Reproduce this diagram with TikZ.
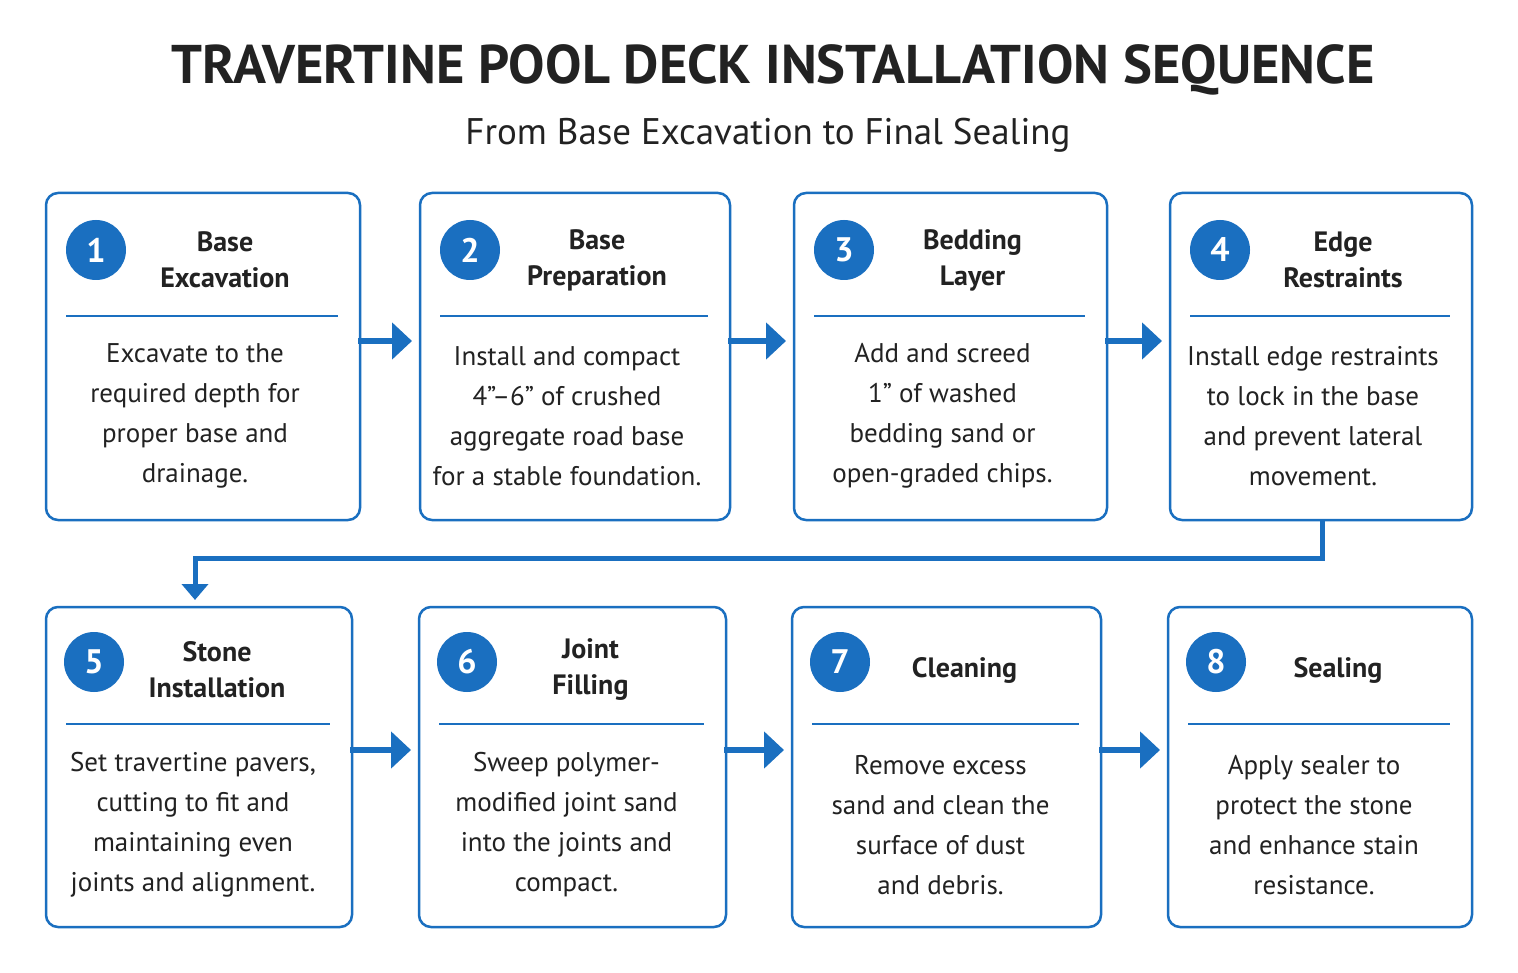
\documentclass[tikz,border=0pt]{standalone}
\usepackage{fontspec}
\setmainfont{PT Sans}
\usetikzlibrary{arrows.meta}
\definecolor{bl}{HTML}{1A6FC0}
\definecolor{tx}{HTML}{222222}
\begin{document}
\begin{tikzpicture}[x=1pt,y=-1pt,
 box/.style={draw=bl,line width=2.5pt,rounded corners=12pt},
 num/.style={circle,fill=bl,minimum size=60pt,inner sep=0,text=white,font=\fontsize{34}{34}\selectfont\bfseries},
 ttl/.style={align=center,text=tx,font=\fontsize{28}{36}\selectfont\bfseries},
 bod/.style={align=center,text=tx,font=\fontsize{27}{40}\selectfont},
 sep/.style={draw=bl,line width=2pt},
 bar/.style={draw=bl,line width=6pt,-{Triangle[length=20pt,width=36pt]}}]
\useasboundingbox[fill=white] (0,0) rectangle (1518,973);
\node[text=tx,font=\fontsize{54.5}{54}\selectfont\bfseries] (title) at (773,70) {TRAVERTINE POOL DECK INSTALLATION SEQUENCE};
\node[text=tx,font=\fontsize{37}{37}\selectfont] (sub) at (768,135) {From Base Excavation to Final Sealing};
% row 1
\foreach \i/\l/\r/\t/\b in {
 1/46/360/{Base\\Excavation}/{Excavate to the\\required depth for\\proper base and\\drainage.},
 2/420/730/{Base\\Preparation}/{Install and compact\\4”–6” of crushed\\aggregate road base\\for a stable foundation.},
 3/794/1107/{Bedding\\Layer}/{Add and screed\\1” of washed\\bedding sand or\\open-graded chips.},
 4/1170/1472/{Edge\\Restraints}/{Install edge restraints\\to lock in the base\\and prevent lateral\\movement.}}{
 \draw[box] (\l,193) rectangle (\r,520);
 \coordinate (L\i) at (\l,341);
 \coordinate (R\i) at (\r,341);
 \node[num] (n\i) at (\l+50,250) {\i};
 \node[ttl] (t\i) at ({(\l+\r)/2+22},260) {\t};
 \draw[sep] (\l+20,316) -- (\r-22,316);
 \node[bod] (d\i) at ({(\l+\r)/2-8},416) {\b};
}
% row 2
\foreach \i/\l/\r/\t/\b in {
 5/46/352/{Stone\\Installation}/{Set travertine pavers,\\cutting to fit and\\maintaining even\\joints and alignment.},
 6/419/726/{Joint\\Filling}/{Sweep polymer-\\modified joint sand\\into the joints and\\compact.},
 7/792/1101/{Cleaning}/{Remove excess\\sand and clean the\\surface of dust\\and debris.},
 8/1168/1472/{Sealing}/{Apply sealer to\\protect the stone\\and enhance stain\\resistance.}}{
 \draw[box] (\l,607) rectangle (\r,927);
 \coordinate (L\i) at (\l,750);
 \coordinate (R\i) at (\r,750);
 \node[num] (n\i) at (\l+48,662) {\i};
 \node[ttl] (t\i) at ({(\l+\r)/2+18},670) {\t};
 \draw[sep] (\l+20,724) -- (\r-22,724);
 \node[bod] (d\i) at ({(\l+\r)/2-6},825) {\b};
}
\draw[bar] ([xshift=-2pt]R1) -- ([xshift=-8pt]L2);
\draw[bar] ([xshift=-2pt]R2) -- ([xshift=-8pt]L3);
\draw[bar] ([xshift=-2pt]R3) -- ([xshift=-8pt]L4);
\draw[bar] ([xshift=-2pt]R5) -- ([xshift=-8pt]L6);
\draw[bar] ([xshift=-2pt]R6) -- ([xshift=-8pt]L7);
\draw[bar] ([xshift=-2pt]R7) -- ([xshift=-8pt]L8);
\coordinate (t5top) at (195,600);
\draw[draw=bl,line width=5pt,-{Triangle[length=16pt,width=26pt]}] (1322,520) -- (1322,558) -- (195,558) -- (t5top);
\end{tikzpicture}
\end{document}
